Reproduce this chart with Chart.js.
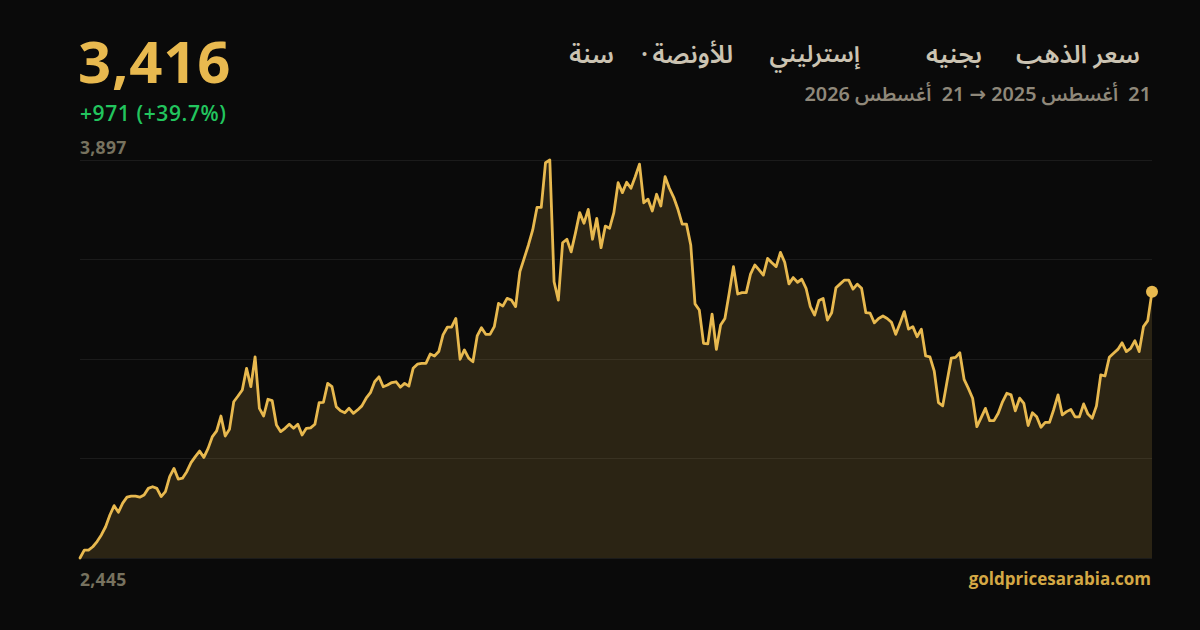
<!DOCTYPE html>
<html lang="ar">
<head>
<meta charset="utf-8">
<script src="https://cdn.jsdelivr.net/npm/chart.js@4/dist/chart.umd.min.js"></script>
<style>
  html,body{margin:0;padding:0;background:#0a0a0a;width:1200px;height:630px;overflow:hidden;}
  body{position:relative;font-family:"Open Sans","Noto Sans",sans-serif;}
  .abs{position:absolute;white-space:pre;}
  #price{left:78px;top:26px;font-size:58px;font-weight:700;color:#e8b94f;letter-spacing:0.8px;line-height:70px;}
  #chg{left:80px;top:99px;font-size:21px;font-weight:600;color:#22c55e;letter-spacing:0.6px;line-height:28px;}
  #maxl{left:80px;top:136px;font-size:17.5px;font-weight:700;color:#77725f;letter-spacing:0.3px;line-height:22px;}
  #minl{left:80px;top:568px;font-size:17.5px;font-weight:700;color:#77725f;letter-spacing:0.3px;line-height:22px;}
  #site{right:49px;top:568px;font-size:17px;font-weight:700;color:#d4a845;line-height:22px;}
  .tw{top:37px;font-size:25px;font-weight:600;color:#cbc3b2;direction:rtl;line-height:36px;font-family:"Noto Sans Arabic","DejaVu Sans",sans-serif;}
  #date{right:49px;top:81px;font-size:19.8px;font-weight:600;color:#8f887a;direction:rtl;line-height:28px;font-family:"Noto Sans Arabic","DejaVu Sans",sans-serif;}
  #wrap{position:absolute;left:70px;top:150px;width:1092px;height:418px;}
</style>
</head>
<body>
<div class="abs" id="price">3,416</div>
<div class="abs" id="chg">+971 (+39.7%)</div>
<div class="abs" id="maxl">3,897</div>
<div class="abs" id="minl">2,445</div>
<div class="abs" id="site">goldpricesarabia.com</div>
<div class="abs tw" style="right:60px">سعر الذهب</div>
<div class="abs tw" style="right:218px">بجنيه</div>
<div class="abs tw" style="right:340px;font-size:24px">إسترليني</div>
<div class="abs tw" style="right:467px">للأونصة</div>
<div class="abs tw" style="right:552px">·</div>
<div class="abs tw" style="right:586px">سنة</div>
<div class="abs" id="date">21  أغسطس 2025 → 21  أغسطس 2026</div>
<div id="wrap"><canvas id="c"></canvas></div>
<script>
// GBP per ounce, daily, 21 Aug 2025 -> 21 Aug 2026
const prices = [
2445,2474,2474,2486,2505,2529,2559,2602,2636,2612,2645,2667,2671,2671,2667,2675,2699,2705,2699,2669,
2687,2742,2772,2733,2736,2760,2793,2815,2835,2812,2845,2888,2909,2963,2890,2915,3015,3036,3058,3137,
3070,3179,2991,2963,3024,3019,2930,2906,2918,2933,2918,2933,2894,2918,2920,2933,3012,3013,3082,3070,
2997,2982,2975,2991,2973,2985,3000,3028,3048,3088,3106,3070,3076,3085,3088,3068,3082,3072,3137,3152,
3155,3155,3189,3182,3198,3259,3287,3287,3319,3170,3204,3174,3161,3255,3285,3261,3261,3289,3374,3364,
3392,3386,3362,3490,3538,3587,3642,3724,3724,3887,3897,3453,3386,3595,3608,3562,3630,3705,3666,3717,
3608,3684,3577,3656,3648,3705,3814,3778,3816,3794,3836,3882,3741,3754,3711,3772,3729,3836,3794,3761,
3717,3663,3663,3587,3372,3350,3228,3226,3335,3206,3295,3319,3411,3508,3408,3413,3413,3481,3514,3496,
3477,3538,3522,3508,3560,3524,3445,3468,3451,3462,3429,3362,3331,3384,3392,3313,3340,3431,3445,3459,
3459,3426,3444,3429,3340,3338,3303,3319,3328,3319,3305,3261,3301,3344,3280,3289,3252,3280,3182,3179,
3128,3012,3000,3088,3174,3177,3194,3097,3064,3028,2924,2957,2991,2946,2946,2973,3015,3046,3040,2982,
3028,3009,2928,2975,2960,2922,2940,2940,2987,3040,2967,2979,2987,2960,2960,3007,2970,2955,3000,3113,
3109,3177,3192,3206,3230,3198,3210,3238,3198,3289,3311,3416
];
const yMin = 2445;
const yMax = 3897;
const gridValues = [2445, 2808, 3171, 3534, 3897];
const labels = prices.map((_, i) => i);

const gold = '#e8b94f';
new Chart(document.getElementById('c'), {
  type: 'line',
  data: {
    labels: labels,
    datasets: [{
      data: prices,
      borderColor: gold,
      borderWidth: 2.8,
      backgroundColor: 'rgba(232,185,79,0.15)',
      fill: 'start',
      tension: 0,
      clip: false,
      pointRadius: ctx => ctx.dataIndex === prices.length - 1 ? 6 : 0,
      pointBackgroundColor: gold,
      pointBorderWidth: 0,
      borderJoinStyle: 'round',
      borderCapStyle: 'round'
    }]
  },
  options: {
    responsive: true,
    maintainAspectRatio: false,
    animation: false,
    layout: { padding: 10 },
    plugins: { legend: { display: false }, tooltip: { enabled: false } },
    scales: {
      x: { type: 'category', display: false, offset: false },
      y: {
        min: yMin, max: yMax,
        border: { display: false },
        grid: { color: 'rgba(255,255,255,0.07)', lineWidth: 1, drawTicks: false },
        ticks: { display: false },
        afterBuildTicks: s => { s.ticks = gridValues.map(v => ({ value: v })); },
        afterFit: s => { s.width = 0; }
      }
    }
  }
});
</script>
</body>
</html>
